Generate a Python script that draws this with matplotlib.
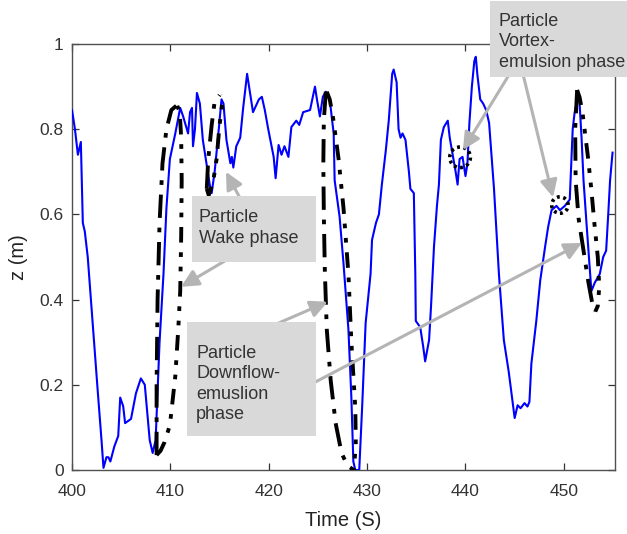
import numpy as np
import matplotlib
matplotlib.use("Agg")
import matplotlib.pyplot as plt
from matplotlib.patches import Rectangle

plt.rcParams['font.family'] = ['Liberation Sans', 'DejaVu Sans']

# ---- blue measured trajectory ----
t_blue = [400.0, 400.3, 400.6, 400.9, 401.0, 401.1, 401.3, 401.6, 402.1, 402.6, 403.0, 403.2,
          403.5, 403.7, 403.9, 404.3, 404.7, 404.9, 405.2, 405.4, 406.0, 406.5, 407.0, 407.4,
          407.9, 408.2, 408.5, 408.9, 409.3, 409.6, 409.95, 410.5, 411.0, 411.3, 411.8, 412.0,
          412.2, 412.3, 412.5, 412.7, 413.0, 413.3, 414.0, 414.2, 414.5, 414.8, 415.2, 415.4,
          415.7, 416.1, 416.25, 416.4, 416.7, 417.1, 417.4, 417.7, 417.8, 418.0, 418.4, 418.6,
          419.0, 419.3, 419.6, 419.95, 420.5, 420.7, 421.0, 421.3, 421.6, 422.0, 422.3, 422.8,
          423.1, 423.5, 424.2, 424.7, 424.9, 425.2, 425.5, 425.8, 426.2, 426.6, 426.7, 427.2,
          427.6, 428.1, 428.4, 428.6, 428.8, 429.2, 429.5, 429.85, 430.35, 430.5, 430.9, 431.2,
          431.5, 431.9, 432.2, 432.55, 432.7, 433.0, 433.2, 433.4, 433.6, 433.9, 434.25, 434.4,
          434.75, 434.9, 434.95, 435.4, 435.7, 435.9, 436.3, 436.5, 436.8, 437.1, 437.3, 437.5,
          437.8, 438.2, 438.4, 438.7, 439.0, 439.2, 439.4, 439.7, 440.0, 440.2, 440.4, 440.65,
          440.9, 441.05, 441.2, 441.5, 441.8, 442.1, 442.4, 442.9, 443.4, 443.9, 444.4, 444.8,
          445.0, 445.3, 445.6, 446.0, 446.3, 446.5, 446.7, 447.2, 447.6, 448.1, 448.4, 448.75,
          449.25, 449.6, 450.1, 450.6, 450.9, 451.1, 451.45, 451.6, 451.8, 452.0, 452.3, 452.6,
          452.8, 453.15, 453.65, 454.0, 454.3, 454.5, 454.7, 454.95]
z_blue = [0.845, 0.80, 0.74, 0.77, 0.68, 0.58, 0.56, 0.50, 0.345, 0.19, 0.07, 0.005,
          0.03, 0.03, 0.02, 0.055, 0.08, 0.17, 0.15, 0.11, 0.12, 0.18, 0.215, 0.20,
          0.07, 0.04, 0.07, 0.30, 0.46, 0.615, 0.73, 0.79, 0.85, 0.83, 0.79, 0.84,
          0.85, 0.76, 0.80, 0.885, 0.86, 0.775, 0.67, 0.65, 0.70, 0.77, 0.87, 0.86,
          0.775, 0.72, 0.735, 0.71, 0.76, 0.78, 0.85, 0.91, 0.93, 0.90, 0.84, 0.85,
          0.87, 0.876, 0.845, 0.80, 0.735, 0.685, 0.763, 0.74, 0.76, 0.735, 0.805, 0.82,
          0.81, 0.84, 0.845, 0.90, 0.87, 0.83, 0.876, 0.888, 0.87, 0.79, 0.68, 0.595,
          0.485, 0.33, 0.17, 0.02, 0.0, 0.0, 0.15, 0.345, 0.46, 0.54, 0.58, 0.60,
          0.67, 0.75, 0.82, 0.93, 0.94, 0.91, 0.80, 0.78, 0.79, 0.775, 0.70, 0.66,
          0.65, 0.46, 0.35, 0.335, 0.29, 0.255, 0.305, 0.385, 0.525, 0.62, 0.67, 0.775,
          0.805, 0.82, 0.78, 0.74, 0.70, 0.67, 0.73, 0.735, 0.69, 0.72, 0.815, 0.90,
          0.96, 0.97, 0.93, 0.87, 0.86, 0.845, 0.815, 0.66, 0.46, 0.305, 0.23, 0.157,
          0.122, 0.152, 0.145, 0.157, 0.149, 0.16, 0.25, 0.35, 0.445, 0.525, 0.57, 0.61,
          0.62, 0.61, 0.62, 0.635, 0.80, 0.84, 0.876, 0.86, 0.78, 0.68, 0.58, 0.485,
          0.42, 0.44, 0.46, 0.50, 0.515, 0.595, 0.68, 0.745]

# ---- black idealised paths (left branch, dash-dot) ----
t_pathA = [408.6, 408.6, 408.7, 408.9, 409.2, 409.6, 410.1, 410.6, np.nan,
           413.7, 413.85, 414.2, 414.5, 415.0, np.nan,
           425.8, 425.6, 425.55, 425.6, 425.7, 425.9, 426.3, 426.8, 427.4, 428.0, 428.65, np.nan,
           451.35, 451.15, 451.2, 451.5, 452.0, 452.5, 452.9, 453.2]
z_pathA = [0.035, 0.20, 0.40, 0.58, 0.72, 0.80, 0.845, 0.855, np.nan,
           0.66, 0.73, 0.81, 0.865, 0.88, np.nan,
           0.888, 0.82, 0.72, 0.60, 0.47, 0.33, 0.21, 0.11, 0.04, 0.01, 0.0, np.nan,
           0.892, 0.80, 0.68, 0.59, 0.515, 0.44, 0.39, 0.372]

# ---- black idealised paths (right branch, dash-dot-dot) ----
t_pathB = [408.6, 409.0, 409.4, 409.95, 410.5, 410.8, 411.0, 411.1, 411.15, 411.1, 410.95, 410.7, np.nan,
           413.7, 413.9, 414.35, 414.7, 415.0, 415.3, 415.1, np.nan,
           425.9, 426.2, 426.55, 427.1, 427.6, 428.1, 428.4, 428.8, 428.85, 428.65, np.nan,
           451.35, 451.6, 451.9, 452.45, 452.8, 453.1, 453.45, 453.6, 453.45, 453.2]
z_pathB = [0.035, 0.045, 0.065, 0.105, 0.22, 0.33, 0.42, 0.55, 0.68, 0.78, 0.84, 0.855, np.nan,
           0.66, 0.645, 0.677, 0.73, 0.81, 0.865, 0.88, np.nan,
           0.888, 0.87, 0.825, 0.73, 0.615, 0.46, 0.30, 0.145, 0.06, 0.0, np.nan,
           0.892, 0.875, 0.838, 0.735, 0.657, 0.58, 0.50, 0.43, 0.385, 0.372]

# ---- vortex-emulsion circles ----
t_circ = [439.45, 449.6]
z_circ = [0.734, 0.622]
s_circ = [220, 140]

x_ticks = [400, 410, 420, 430, 440, 450]
y_ticks = [0, 0.2, 0.4, 0.6, 0.8, 1.0]
y_ticklabels = ['0', '0.2', '0.4', '0.6', '0.8', '1']

W, H = 627, 534
fig = plt.figure(figsize=(W / 100, H / 100), dpi=100)
ax = fig.add_axes([72 / W, 1 - 470 / H, (615 - 72) / W, (470 - 44) / H])

ax.plot(t_blue, z_blue, color='#0000ff', lw=1.5, zorder=3)
ax.plot(t_pathA, z_pathA, color='black', lw=2.8, linestyle=(0, (6, 2.5, 1.2, 2.5)), zorder=4)
ax.plot(t_pathB, z_pathB, color='black', lw=2.8, linestyle=(0, (4, 2.5, 1.2, 2.5, 1.2, 2.5)), zorder=4)
ax.scatter(t_circ, z_circ, s=s_circ, facecolors='none', edgecolors='black',
           linewidths=2.6, linestyles=(0, (0.8, 1.0)), zorder=5)

ax.set_xlim(400, 455.2)
ax.set_ylim(0, 1)
ax.set_xticks(x_ticks)
ax.set_yticks(y_ticks)
ax.set_yticklabels(y_ticklabels)
ax.tick_params(direction='in', top=True, right=True, length=5, width=0.9,
               labelsize=12.5, colors='#333333', pad=6)
ax.tick_params(axis='x', pad=10)
for sp in ax.spines.values():
    sp.set_color('#505050')
    sp.set_linewidth(1.0)
ax.set_xlabel('Time (S)', fontsize=14.5, color='#222222', labelpad=9)
ax.set_ylabel('z (m)', fontsize=14.5, color='#222222', labelpad=8)


def fpx(x, y):
    return (x / W, 1 - y / H)


arrow_col = '#b4b4b4'
arrows = [
    ((415.65, 0.70), (240, 198)),
    ((411.08, 0.43), (240, 252)),
    ((426.0, 0.395), (258, 332)),
    ((451.83, 0.533), (300, 390)),
    ((439.74, 0.751), (512, 70)),
    ((448.9, 0.64), (522, 70)),
]
for tip, start in arrows:
    ax.annotate('', xy=tip, xycoords='data', xytext=fpx(*start), textcoords='figure fraction',
                arrowprops=dict(arrowstyle='-|>,head_length=0.65,head_width=0.32', color=arrow_col,
                                lw=2.2, mutation_scale=16, shrinkA=0, shrinkB=0),
                annotation_clip=False, zorder=6)

box_col = '#d9d9d9'
boxes = [
    ((192, 196, 316, 262), (199, 228), 'Particle\nWake phase'),
    ((187, 322, 316, 436), (196, 384), 'Particle\nDownflow-\nemuslion\nphase'),
    ((490, 1, 640, 77), (499, 42), 'Particle\nVortex-\nemulsion phase'),
]
for (x0, y0, x1, y1), (tx, ty), label in boxes:
    fig.add_artist(Rectangle(fpx(x0, y1), (x1 - x0) / W, (y1 - y0) / H,
                             transform=fig.transFigure, facecolor=box_col,
                             edgecolor='none', zorder=10))
    fig.text(*fpx(tx, ty), label, fontsize=13, color='#333333', ha='left', va='center',
             linespacing=1.25, zorder=11)

fig.savefig('out.png', dpi=100)
